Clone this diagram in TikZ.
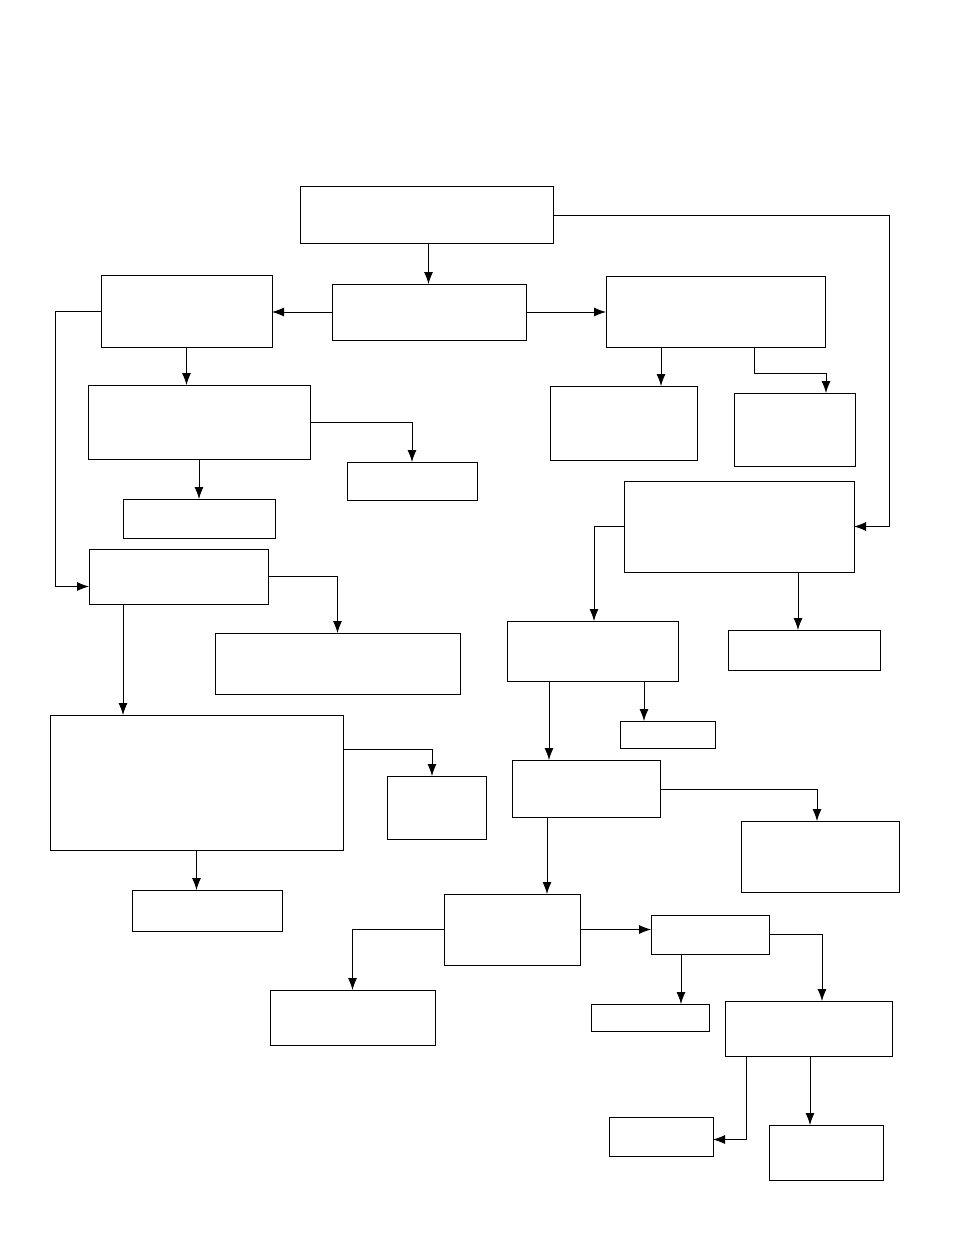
\documentclass[tikz,border=0pt]{standalone}
\usetikzlibrary{arrows.meta}
\newcommand{\bx}[5]{\node[box,minimum width={(#4-#2)*1pt},minimum height={(#5-#3)*1pt}] (#1) at ({(#2+#4)/2},{(#3+#5)/2}) {};}
\begin{document}
\begin{tikzpicture}[x=1pt,y=-1pt,
  box/.style={draw,line width=1pt,inner sep=0pt,outer sep=0pt},
  arr/.style={draw,line width=0.8pt,-{Latex[length=12pt,width=9pt]}}]
\useasboundingbox (0,0) rectangle (954,1235);
\bx{A}{300}{186}{553}{243}
\bx{B}{332}{284}{526}{340}
\bx{C}{101}{275}{272}{347}
\bx{D}{606}{276}{825}{347}
\bx{E}{88}{385}{310}{459}
\bx{F}{347}{462}{477}{500}
\bx{G}{123}{499}{275}{538}
\bx{H}{89}{549}{268}{604}
\bx{I}{215}{633}{460}{694}
\bx{J}{50}{715}{343}{850}
\bx{K}{387}{776}{486}{839}
\bx{L}{132}{890}{282}{931}
\bx{M}{550}{386}{697}{460}
\bx{N}{734}{393}{855}{466}
\bx{O}{624}{481}{854}{572}
\bx{P}{728}{630}{880}{670}
\bx{Q}{507}{621}{678}{681}
\bx{R}{620}{721}{715}{748}
\bx{S}{512}{760}{660}{817}
\bx{T}{741}{821}{899}{892}
\bx{U}{444}{894}{580}{965}
\bx{V}{651}{915}{769}{954}
\bx{W}{270}{990}{435}{1045}
\bx{X}{591}{1004}{709}{1031}
\bx{Y}{725}{1001}{892}{1056}
\bx{Z}{609}{1117}{713}{1156}
\bx{AA}{769}{1125}{883}{1180}
\draw[arr] ([xshift=2pt]A.south) -- ([xshift=2pt]A.south |- B.north);
\draw[arr] (B.west) -- (B.west -| C.east);
\draw[arr] (B.east) -- (B.east -| D.west);
\draw[arr] ([yshift=-1pt]A.east) -- ++(336,0) |- (O.east);
\draw[arr] (C.south) -- (C.south |- E.north);
\draw[arr] (C.west) -- ++(-46,0) |- ([yshift=-10pt]H.west);
\draw[arr] ([xshift=55pt]D.south west) -- ([xshift=55pt]D.south west |- M.north);
\draw[arr] ([xshift=148pt]D.south west) -- ++(0,26) -| ([xshift=92pt]N.north west);
\draw[arr] (E.east) -| (F.north);
\draw[arr] (E.south) -- (E.south |- G.north);
\draw[arr] (H.east) -| (I.north);
\draw[arr] ([xshift=34pt]H.south west) -- ([xshift=34pt]H.south west |- J.north);
\draw[arr] ([yshift=33pt]J.east) -| ([xshift=45pt]K.north west);
\draw[arr] (J.south) -- (J.south |- L.north);
\draw[arr] (O.west) -| ([xshift=87pt]Q.north west);
\draw[arr] ([xshift=174pt]O.south west) -- ([xshift=174pt]O.south west |- P.north);
\draw[arr] ([xshift=42pt]Q.south west) -- ([xshift=42pt]Q.south west |- S.north);
\draw[arr] ([xshift=137pt]Q.south west) -- ([xshift=137pt]Q.south west |- R.north);
\draw[arr] ([yshift=-1pt]S.east) -| ([xshift=76pt]T.north west);
\draw[arr] ([xshift=35pt]S.south west) -- ([xshift=35pt]S.south west |- U.north);
\draw[arr] (U.west) -| (W.north);
\draw[arr] (U.east) -- (U.east -| V.west);
\draw[arr] ([xshift=30pt]V.south west) -- ([xshift=30pt]V.south west |- X.north);
\draw[arr] (V.east) -| ([xshift=97pt]Y.north west);
\draw[arr] ([xshift=21pt]Y.south west) |- ([yshift=-3pt]Z.east);
\draw[arr] ([xshift=85pt]Y.south west) -- ([xshift=85pt]Y.south west |- AA.north);
\end{tikzpicture}
\end{document}
